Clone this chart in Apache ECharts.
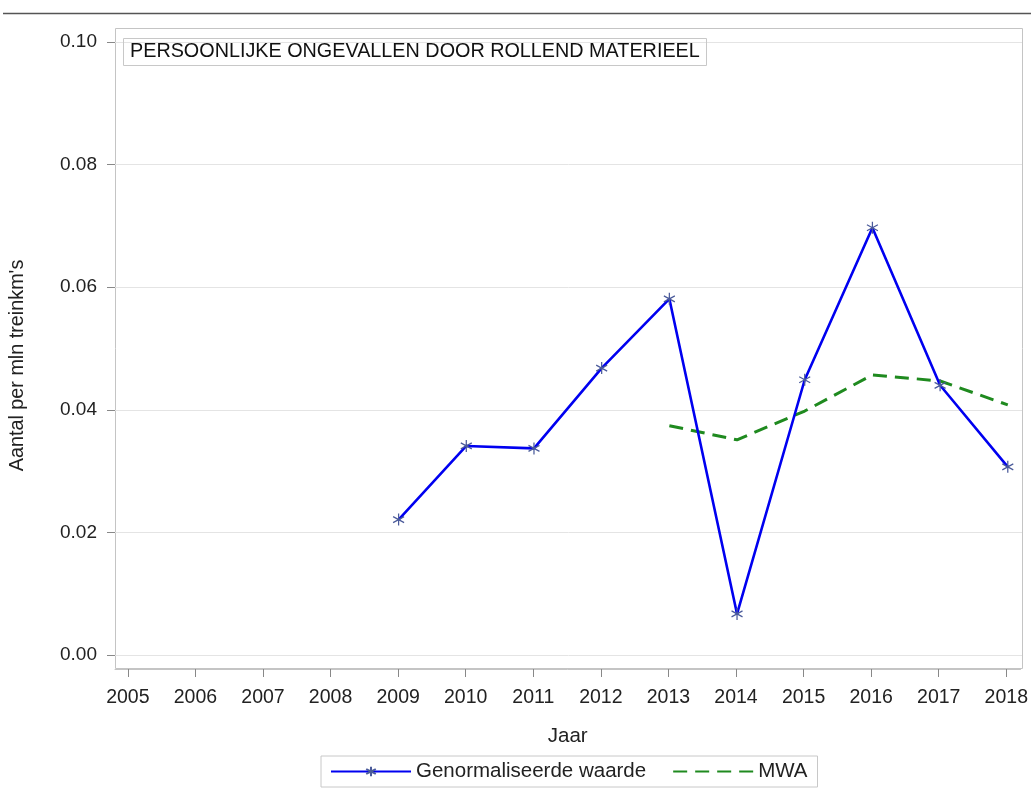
<!DOCTYPE html>
<html><head><meta charset="utf-8">
<script src="https://cdn.jsdelivr.net/npm/echarts@6/dist/echarts.min.js"></script>
<style>html,body{margin:0;padding:0;background:#fff}#c{width:1031px;height:788px}</style>
</head><body><div id="c"></div>
<script>
const years = [2009, 2010, 2011, 2012, 2013, 2014, 2015, 2016, 2017, 2018];
const normValues = [0.0221, 0.0341, 0.0337, 0.0468, 0.0581, 0.0067, 0.0449, 0.0697, 0.0440, 0.0307];
const mwaValues = [null, null, null, null, 0.0374, 0.0351, 0.0398, 0.0457, 0.0447, 0.0408];
const xTickYears = [2005, 2006, 2007, 2008, 2009, 2010, 2011, 2012, 2013, 2014, 2015, 2016, 2017, 2018];
const titleText = 'PERSOONLIJKE ONGEVALLEN DOOR ROLLEND MATERIEEL';

const FONT = '"Liberation Sans", Arial, sans-serif';
const chart = echarts.init(document.getElementById('c'), null, {renderer: 'canvas'});
const star = 'path://M0,-6L0,6M-5.2,-3L5.2,3M-5.2,3L5.2,-3';
const X_MIN = 2004.81, X_MAX = 2018.21;
chart.setOption({
  animation: false,
  backgroundColor: '#fff',
  textStyle: {fontFamily: FONT},
  title: {
    text: titleText, left: 123, top: 38,
    borderColor: '#c8c8c8', borderWidth: 1, padding: [4, 7, 4, 7],
    textStyle: {fontFamily: FONT, fontSize: 19.8, fontWeight: 'normal', color: '#111', lineHeight: 20}
  },
  graphic: [
    {type: 'line', shape: {x1: 3, y1: 13.5, x2: 1031, y2: 13.5}, style: {stroke: '#555', lineWidth: 1.5}, silent: true},
    {type: 'rect', shape: {x: 115.5, y: 28.5, width: 907, height: 640}, style: {fill: 'none', stroke: '#c4c4c4', lineWidth: 1}, silent: true, z: 0}
  ],
  legend: {
    left: 321, top: 756, itemWidth: 80, itemHeight: 12, itemGap: 26,
    padding: [5, 10, 5, 9],
    borderColor: '#c8c8c8', borderWidth: 1,
    textStyle: {fontFamily: FONT, fontSize: 20.5, color: '#222'},
    data: [
      {name: 'Genormaliseerde waarde'},
      {name: 'MWA', itemStyle: {opacity: 0}}
    ]
  },
  grid: [
    {left: 115, right: 9, top: 42, bottom: 133},
    {left: 115, right: 9, top: 28, bottom: 119}
  ],
  xAxis: [
    {
      gridIndex: 0, type: 'value', min: X_MIN, max: X_MAX,
      axisLine: {show: false}, axisTick: {show: false}, axisLabel: {show: false}, splitLine: {show: false}
    },
    {
      gridIndex: 1, type: 'value', min: X_MIN, max: X_MAX,
      name: 'Jaar', nameLocation: 'middle', nameGap: 57,
      nameTextStyle: {fontFamily: FONT, fontSize: 20.5, color: '#222'},
      axisLine: {show: true, lineStyle: {color: '#c4c4c4'}},
      axisTick: {show: true, length: 8, customValues: xTickYears, lineStyle: {color: '#888'}},
      axisLabel: {customValues: xTickYears, margin: 19, fontFamily: FONT, fontSize: 19.5, color: '#222', formatter: v => String(Math.round(v))},
      splitLine: {show: false}
    }
  ],
  yAxis: [
    {
      gridIndex: 0, type: 'value', min: 0, max: 0.1, interval: 0.02,
      name: "Aantal per mln treinkm's", nameLocation: 'middle', nameGap: 87,
      nameTextStyle: {fontFamily: FONT, fontSize: 19.8, color: '#222', padding: [0, 34, 0, 0]},
      axisLine: {show: false},
      axisTick: {show: true, length: 8, lineStyle: {color: '#888'}},
      axisLabel: {margin: 18, fontFamily: FONT, fontSize: 19, color: '#222', formatter: v => v.toFixed(2)},
      splitLine: {show: true, lineStyle: {color: '#e4e4e4', width: 1}}
    },
    {
      gridIndex: 1, type: 'value', min: 0, max: 1, show: false
    }
  ],
  series: [
    {
      name: 'Genormaliseerde waarde', type: 'line', xAxisIndex: 0, yAxisIndex: 0,
      data: years.map((y, i) => [y, normValues[i]]),
      lineStyle: {color: '#0000f0', width: 2.6},
      symbol: star, symbolSize: [11, 12], showSymbol: true,
      itemStyle: {color: 'rgba(0,0,0,0)', borderColor: '#4a5a9a', borderWidth: 1.3},
      z: 3
    },
    {
      name: 'MWA', type: 'line', xAxisIndex: 0, yAxisIndex: 0,
      data: years.map((y, i) => [y, mwaValues[i]]),
      connectNulls: false,
      lineStyle: {color: '#1f8a1f', width: 3, type: [14, 8]},
      itemStyle: {color: '#1f8a1f'},
      symbol: 'none', z: 2
    }
  ]
});
</script></body></html>
